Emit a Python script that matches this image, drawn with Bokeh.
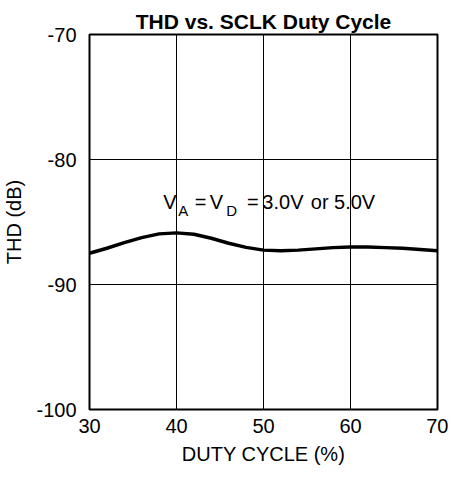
from bokeh.plotting import figure
from bokeh.models import Label, FixedTicker, CustomJSTickFormatter
from bokeh.embed import file_html
from bokeh.resources import INLINE

FONT = "Liberation Sans"

duty_cycle = [30, 32, 34, 36, 38, 40, 42, 44, 46, 48, 50, 52, 54, 56, 58, 60, 62, 64, 66, 68, 70]
thd_db = [-87.5, -87.1, -86.65, -86.25, -85.95, -85.87, -85.98, -86.3, -86.7, -87.03, -87.25,
          -87.3, -87.25, -87.15, -87.05, -87.0, -87.0, -87.05, -87.1, -87.2, -87.3]
x_ticks = [30, 40, 50, 60, 70]
y_ticks = [-100, -90, -80, -70]

title_text = "THD vs. SCLK Duty Cycle"

# annotation "VA = VD = 3.0V or 5.0V": anchor in data units, pieces offset in px
note_x = 38.49
note_y = -83.4
note_main = [("V", 0), ("=", 31.3), ("V", 46.3), ("=", 83.6), ("3.0V", 99), ("or", 147.5), ("5.0V", 170.7)]
note_sub = [("A", 14.8), ("D", 63)]

p = figure(width=448, height=471, x_range=(30, 70), y_range=(-100, -70),
           output_backend="svg", toolbar_location=None,
           min_border_left=86, min_border_right=11, min_border_top=34, min_border_bottom=62)

p.title.text = title_text
p.title.text_font = FONT
p.title.text_font_size = "21px"
p.title.text_font_style = "bold"
p.title.text_color = "black"
p.title.align = "center"
p.title.vertical_align = "top"
p.title.offset = -7
p.title.standoff = 0

p.outline_line_color = "black"
p.outline_line_width = 2
p.background_fill_color = "white"
p.border_fill_color = "white"

p.xaxis.ticker = FixedTicker(ticks=x_ticks)
p.yaxis.ticker = FixedTicker(ticks=y_ticks)
p.xgrid.ticker = FixedTicker(ticks=[40, 50, 60])
p.ygrid.ticker = FixedTicker(ticks=[-90, -80])
for g in (p.xgrid, p.ygrid):
    g.grid_line_color = "black"
    g.grid_line_width = 1
    g.grid_line_alpha = 1

fmt = "return tick.toFixed(0);"
for ax in (p.xaxis, p.yaxis):
    ax.formatter = CustomJSTickFormatter(code=fmt)
    ax.axis_line_color = None
    ax.major_tick_line_color = None
    ax.minor_tick_line_color = None
    ax.major_tick_in = 0
    ax.major_tick_out = 0
    ax.minor_tick_out = 0
    ax.major_label_text_font = FONT
    ax.major_label_text_font_size = "20px"
    ax.major_label_text_color = "black"
    ax.axis_label_text_font = FONT
    ax.axis_label_text_font_size = "20px"
    ax.axis_label_text_font_style = "normal"
    ax.axis_label_text_color = "black"

p.xaxis.axis_label = "DUTY CYCLE (%)"
p.yaxis.axis_label = "THD (dB)"
p.xaxis.major_label_standoff = 9
p.yaxis.major_label_standoff = 13
p.xaxis.axis_label_standoff = 7
p.yaxis.axis_label_standoff = 8

p.line(duty_cycle, thd_db, line_color="black", line_width=3.5)

for t, dx in note_main:
    p.add_layout(Label(x=note_x, y=note_y, x_offset=dx, y_offset=0, text=t,
                       text_font=FONT, text_font_size="20px",
                       text_align="left", text_baseline="alphabetic", text_color="black"))
for t, dx in note_sub:
    p.add_layout(Label(x=note_x, y=note_y, x_offset=dx, y_offset=-8, text=t,
                       text_font=FONT, text_font_size="15px",
                       text_align="left", text_baseline="alphabetic", text_color="black"))

open("out.html", "w").write(file_html(p, INLINE))
